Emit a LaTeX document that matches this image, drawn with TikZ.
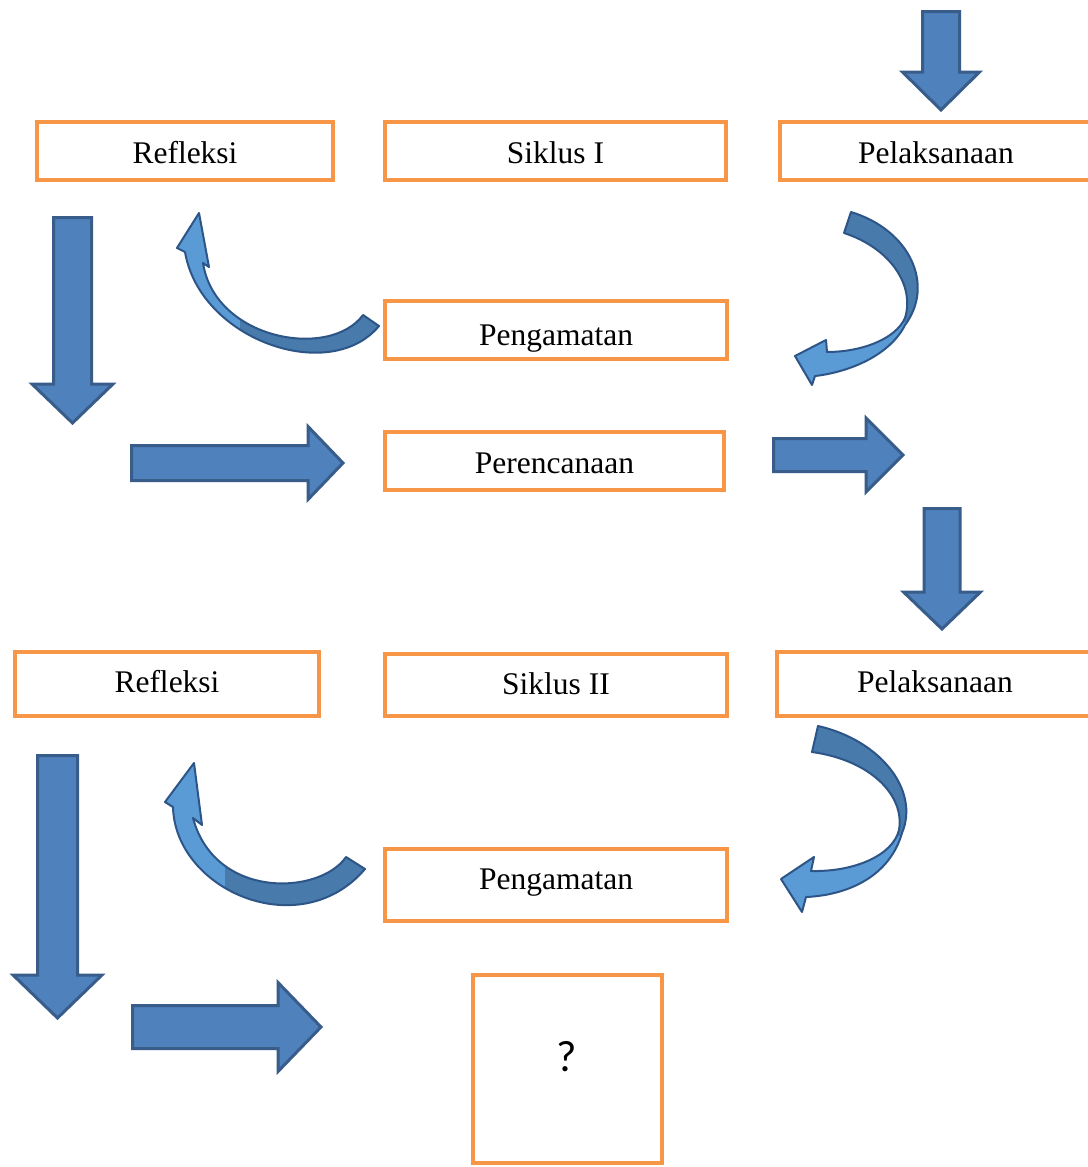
\documentclass[tikz,border=0pt]{standalone}
\usepackage{fontspec}
\setmainfont{Liberation Serif}
\newfontfamily\qfont{Carlito}

\definecolor{boxorange}{RGB}{247,150,70}
\definecolor{arrowblue}{RGB}{79,129,189}
\definecolor{arrowedge}{RGB}{56,93,138}
\definecolor{curvelightblue}{RGB}{91,155,213}
\definecolor{curvedarkblue}{RGB}{72,122,172}
\definecolor{curveedge}{RGB}{45,85,135}

% block arrows: centre, start, half shaft, head start, half head, tip
\newcommand{\blockdown}[6]{\draw[blockarrow] ({#1-#3},#2) -- ({#1+#3},#2) -- ({#1+#3},#4) -- ({#1+#5},#4) -- (#1,#6) -- ({#1-#5},#4) -- ({#1-#3},#4) -- cycle;}
\newcommand{\blockright}[6]{\draw[blockarrow] (#2,{#1-#3}) -- (#4,{#1-#3}) -- (#4,{#1-#5}) -- (#6,#1) -- (#4,{#1+#5}) -- (#4,{#1+#3}) -- (#2,{#1+#3}) -- cycle;}

% curved arrows
\def\curveA{(363,315) .. controls (330,360) and (215,340) .. (203,263) -- (209,267) -- (199,213) -- (177,248) -- (185,252) .. controls (200,340) and (330,385) .. (379,326) -- cycle}
\def\curveB{(851,212) .. controls (910,230) and (935,285) .. (905,325) .. controls (890,355) and (850,372) .. (815,376) -- (812,385) -- (795,356) -- (826,340) -- (827,352) .. controls (860,352) and (895,340) .. (905,318) .. controls (915,285) and (890,248) .. (844,233) -- cycle}
\def\curveC{(346,857) .. controls (320,895) and (215,900) .. (193,818) -- (202,825) -- (194,763) -- (165,802) -- (173,807) .. controls (175,890) and (300,945) .. (365,869) -- cycle}
\def\curveD{(818,726) .. controls (880,740) and (920,790) .. (902,833) .. controls (890,875) and (850,895) .. (806,897) -- (802,912) -- (781,879) -- (814,857) -- (811,871) .. controls (855,872) and (893,855) .. (899,830) .. controls (905,795) and (870,760) .. (812,752) -- cycle}

\begin{document}
\begin{tikzpicture}[x=1pt, y=-1pt,
    box/.style={draw=boxorange, line width=4pt, minimum height=58pt, inner sep=0pt,
        font=\fontsize{31.5}{36}\selectfont, text height=28pt, text depth=4pt},
    blockarrow/.style={fill=arrowblue, draw=arrowedge, line width=3pt, line join=miter},
    curvelight/.style={fill=curvelightblue},
    curvedark/.style={fill=curvedarkblue},
    curveline/.style={draw=curveedge, line width=2pt, line join=round}
]
    \path[use as bounding box, fill=white] (0,0) rectangle (1087,1167);

    % Siklus I
    \node[box, minimum width=296pt] (refleksiA) at (185,151) {Refleksi};
    \node[box, minimum width=341pt] (siklusA) at (555.5,151) {Siklus I};
    \node[box, minimum width=312pt] (pelaksanaanA) at (936,151) {Pelaksanaan};
    \node[box, minimum width=342pt, text height=34pt] (pengamatanA) at (556,330) {Pengamatan};
    \node[box, minimum width=339pt] (perencanaan) at (554.5,461) {Perencanaan};

    % Siklus II
    \node[box, minimum width=304pt, minimum height=64pt, text height=20pt] (refleksiB) at (167,684) {Refleksi};
    \node[box, minimum width=342pt, minimum height=62pt, text height=22pt] (siklusB) at (556,685) {Siklus II};
    \node[box, minimum width=316pt, minimum height=64pt, text height=20pt] (pelaksanaanB) at (935,684) {Pelaksanaan};
    \node[box, minimum width=342pt, minimum height=72pt, text height=13pt] (pengamatanB) at (556,885) {Pengamatan};
    \node[box, minimum width=189pt, minimum height=188pt] (hasil) at (567.5,1069) {};
    \node[font=\qfont\fontsize{44}{50}\selectfont] (tanya) at (567,1057) {?};

    % Block arrows
    \blockdown{941}{11.5}{18.5}{72}{38.5}{110}
    \blockdown{942}{508.5}{18}{592}{38.5}{629}
    \blockdown{72.5}{217.5}{19}{384}{40.5}{423}
    \blockdown{57.5}{755.5}{20}{975}{44.5}{1018}
    \blockright{463}{131.5}{17.5}{308}{36.5}{343}
    \blockright{455}{773.5}{16.5}{866}{37}{903}
    \blockright{1027}{132.5}{21.5}{278}{44.5}{321}

    % Curved arrows
    \fill[curvelight] \curveA;
    \begin{scope}
        \clip (240,280) rectangle (400,400);
        \fill[curvedark] \curveA;
    \end{scope}
    \draw[curveline] \curveA;

    \fill[curvelight] \curveB;
    \begin{scope}
        \clip (780,190) rectangle (940,321);
        \fill[curvedark] \curveB;
    \end{scope}
    \draw[curveline] \curveB;

    \fill[curvelight] \curveC;
    \begin{scope}
        \clip (225,820) rectangle (400,960);
        \fill[curvedark] \curveC;
    \end{scope}
    \draw[curveline] \curveC;

    \fill[curvelight] \curveD;
    \begin{scope}
        \clip (780,700) rectangle (940,835);
        \fill[curvedark] \curveD;
    \end{scope}
    \draw[curveline] \curveD;
\end{tikzpicture}
\end{document}
